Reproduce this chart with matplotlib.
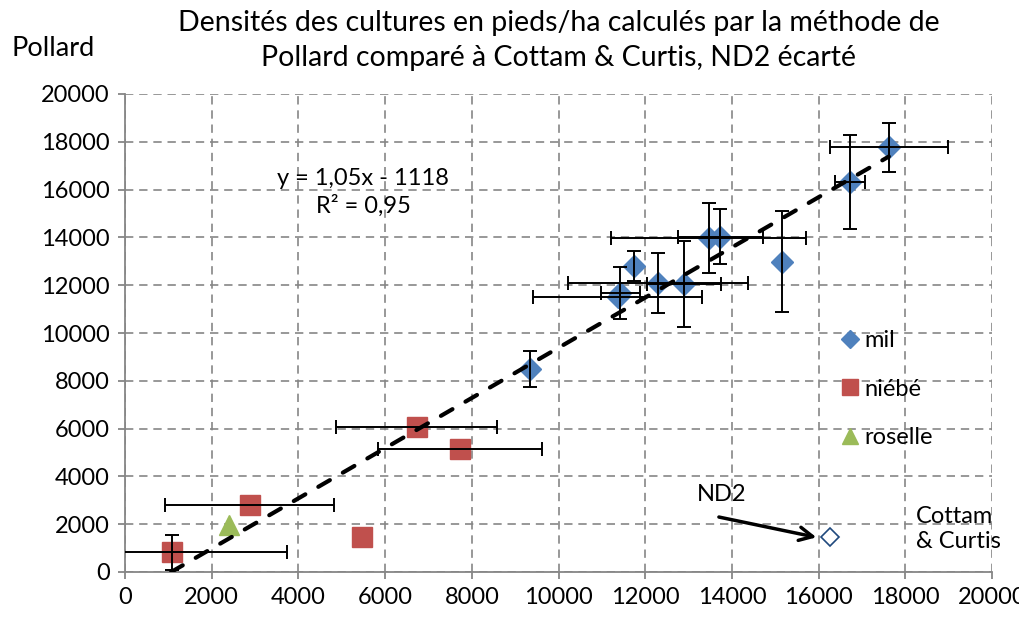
import matplotlib
matplotlib.use('Agg')
import matplotlib.pyplot as plt
from matplotlib.lines import Line2D
import numpy as np

plt.rcParams['font.family'] = ['Lato', 'DejaVu Sans']

# données
mil_x = [9340, 11370, 11420, 11750, 12290, 12900, 13470, 13730, 15150, 16720, 17620]
mil_y = [8480, 11490, 11670, 12800, 12100, 12040, 13960, 14030, 12990, 16330, 17770]
mil_xerr = [0, 1950, 450, 0, 2070, 850, 2250, 980, 0, 350, 1365]
mil_yerr = [750, 0, 1100, 630, 1250, 1800, 1460, 1150, 2100, 1970, 1025]

niebe_x = [1090, 2880, 5460, 6730, 7730]
niebe_y = [820, 2800, 1480, 6050, 5130]
niebe_xerr = [2640, 1950, 0, 1860, 1900]
niebe_yerr = [720, 0, 0, 0, 0]

roselle_x = [2400]
roselle_y = [1980]

nd2_x = [16260]
nd2_y = [1450]

# courbe de tendance y = 1,05x - 1118
pente = 1.05
ordonnee = -1118
trend_x = np.array([1065, 17620])

bleu = '#4F81BD'
rouge = '#C0504D'
vert = '#9BBB59'
gris = '#868686'

fig = plt.figure(figsize=(10.19, 6.25), dpi=100)
ax = fig.add_axes([0.1227, 0.0848, 0.8508, 0.7648])


def barres(x, y, xerr, yerr):
    # seulement les barres non nulles (pas de croix sur les points sans erreur)
    x, y, xerr, yerr = map(np.asarray, (x, y, xerr, yerr))
    kw = dict(fmt='none', ecolor='black', elinewidth=1.4, capsize=5, capthick=1.4, zorder=4)
    m = xerr > 0
    ax.errorbar(x[m], y[m], xerr=xerr[m], **kw)
    m = yerr > 0
    ax.errorbar(x[m], y[m], yerr=yerr[m], **kw)


barres(mil_x, mil_y, mil_xerr, mil_yerr)
barres(niebe_x, niebe_y, niebe_xerr, niebe_yerr)

ax.plot(mil_x, mil_y, 'D', color=bleu, ms=11.5, mec=bleu, zorder=3)
ax.plot(niebe_x, niebe_y, 's', color=rouge, ms=14, mec=rouge, zorder=3)
ax.plot(roselle_x, roselle_y, '^', color=vert, ms=14, mec=vert, zorder=3)
ax.plot(nd2_x, nd2_y, 'D', mfc='white', mec='#1F497D', ms=9, mew=1.2, zorder=3)

ax.plot(trend_x, pente * trend_x + ordonnee, color='black', lw=3,
        ls=(0, (3.2, 3.6)), dash_capstyle='round', zorder=5)

ax.set_xlim(0, 20000)
ax.set_ylim(0, 20000)
ax.set_xticks(np.arange(0, 20001, 2000))
ax.set_yticks(np.arange(0, 20001, 2000))
ax.grid(True, color=gris, ls=(0, (5, 3.5)), lw=1.2)
ax.set_axisbelow(True)
for s in ['top', 'right']:
    ax.spines[s].set_visible(False)
for s in ['left', 'bottom']:
    ax.spines[s].set_color(gris)
    ax.spines[s].set_linewidth(1.3)
ax.tick_params(axis='both', colors=gris, length=5, width=1.3, labelsize=17,
               labelcolor='black', pad=6)

ax.text(5490, 15880, 'y = 1,05x - 1118\nR² = 0,95', ha='center', va='center',
        fontsize=17, linespacing=1.3)

ax.annotate('', xy=(15950, 1450), xytext=(13700, 2300),
            arrowprops=dict(arrowstyle='->', color='black', lw=2.5,
                            mutation_scale=24, shrinkA=0, shrinkB=0))
ax.text(13200, 3250, 'ND2', fontsize=17, ha='left', va='center')
ax.text(18250, 1800, 'Cottam\n& Curtis', fontsize=17, ha='left', va='center',
        linespacing=1.25, clip_on=False)

handles = [Line2D([], [], marker='D', ls='none', color=bleu, ms=9),
           Line2D([], [], marker='s', ls='none', color=rouge, ms=11),
           Line2D([], [], marker='^', ls='none', color=vert, ms=11)]
ax.legend(handles, ['mil', 'niébé', 'roselle'], loc='upper left',
          bbox_to_anchor=(0.815, 0.525), frameon=False, fontsize=17,
          handlelength=0.8, handletextpad=0.2, labelspacing=1.15,
          borderaxespad=0)

ax.set_title('Densités des cultures en pieds/ha calculés par la méthode de\n'
             'Pollard comparé à Cottam & Curtis, ND2 écarté', fontsize=20.5, pad=20,
             linespacing=1.45)
fig.text(0.011, 0.923, 'Pollard', fontsize=19.5, ha='left', va='center')

fig.savefig('out.png', dpi=100)
